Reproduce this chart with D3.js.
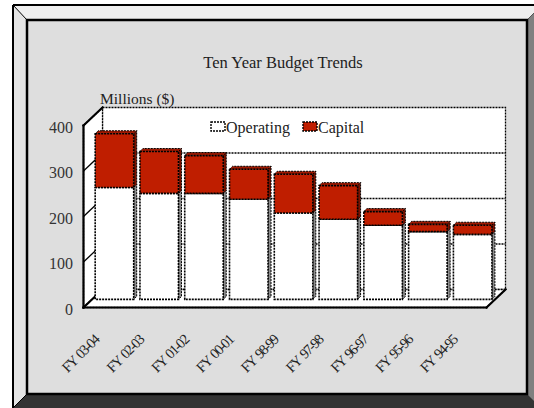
<!DOCTYPE html>
<html>
<head>
<meta charset="utf-8">
<script src="https://cdn.jsdelivr.net/npm/d3@7"></script>
<style>
  html, body { margin: 0; padding: 0; background: #ffffff; }
  svg { display: block; }
  text { font-family: "Liberation Serif", "Times New Roman", serif; }
</style>
</head>
<body>
<svg id="chart" width="534" height="408"></svg>
<script>
// Budget figures, millions of dollars
const categories = ["FY 03-04", "FY 02-03", "FY 01-02", "FY 00-01", "FY 98-99",
                    "FY 97-98", "FY 96-97", "FY 95-96", "FY 94-95"];
const operating = [246, 233, 233, 220, 190, 176, 163, 149, 143];
const capital   = [118,  92,  83,  66,  85,  74,  30,  16,  20];
const yTicks = [0, 100, 200, 300, 400];
const seriesNames = ["Operating", "Capital"];

const svg = d3.select("#chart");

// ---- bevelled frame ----
const frame = svg.append("g");
frame.append("polygon").attr("points", "13,5 534,5 534,13 527,20 27,20").attr("fill", "#efefef");
frame.append("polygon").attr("points", "13,5 27,20 27,394 13,408").attr("fill", "#e4e4e4");
frame.append("polygon").attr("points", "527,20 534,13 534,408 527,394").attr("fill", "#808080");
frame.append("polygon").attr("points", "27,394 527,394 534,401 534,408 13,408").attr("fill", "#333333");
frame.append("line").attr("x1", 13).attr("y1", 5).attr("x2", 534).attr("y2", 5).attr("stroke", "#000").attr("stroke-width", 2);
frame.append("line").attr("x1", 13).attr("y1", 5).attr("x2", 13).attr("y2", 408).attr("stroke", "#000").attr("stroke-width", 2);
frame.append("line").attr("x1", 13).attr("y1", 5).attr("x2", 27).attr("y2", 20).attr("stroke", "#000").attr("stroke-width", 1);
frame.append("line").attr("x1", 527).attr("y1", 20).attr("x2", 534).attr("y2", 13).attr("stroke", "#555").attr("stroke-width", 1);
frame.append("line").attr("x1", 27).attr("y1", 394).attr("x2", 13).attr("y2", 408).attr("stroke", "#000").attr("stroke-width", 1);
frame.append("rect").attr("x", 27).attr("y", 20).attr("width", 500).attr("height", 374)
  .attr("fill", "#dedede").attr("stroke", "#000").attr("stroke-width", 2.5);

// ---- 3D plot geometry ----
const X0 = 83.5, X1 = 486.5;      // front plane extent
const DX = 19, DY = -18;          // depth vector (front -> back wall)
const T = 0.45;                   // depth at which the bars stand
const BD = [3, -3];               // thickness of each bar

const y = d3.scaleLinear().domain([0, 400]).range([307.5, 125.5]);
const x = d3.scaleBand().domain(categories).range([X0, X1]).paddingInner(0.14).paddingOuter(0.07);

const P = (px, v, t) => [px + DX * t, y(v) + DY * t];
const pts = arr => arr.map(p => p.join(",")).join(" ");
const dotted = "2,1";

const plot = svg.append("g");

// back wall
plot.append("polygon")
  .attr("points", pts([P(X0, 400, 1), P(X1, 400, 1), P(X1, 0, 1), P(X0, 0, 1)]))
  .attr("fill", "#fff").attr("stroke", "#000").attr("stroke-width", 1.3).attr("stroke-dasharray", dotted);

// back wall gridlines
plot.selectAll(".grid").data(yTicks.filter(d => d > 0 && d < 400)).join("line")
  .attr("x1", d => P(X0, d, 1)[0]).attr("y1", d => P(X0, d, 1)[1])
  .attr("x2", d => P(X1, d, 1)[0]).attr("y2", d => P(X1, d, 1)[1])
  .attr("stroke", "#000").attr("stroke-width", 1.3).attr("stroke-dasharray", dotted);

// left wall
plot.append("polygon")
  .attr("points", pts([P(X0, 0, 0), P(X0, 400, 0), P(X0, 400, 1), P(X0, 0, 1)]))
  .attr("fill", "#fff").attr("stroke", "#000").attr("stroke-width", 1.3).attr("stroke-dasharray", dotted);
plot.selectAll(".wallgrid").data(yTicks.filter(d => d > 0 && d < 400)).join("line")
  .attr("x1", d => P(X0, d, 0)[0]).attr("y1", d => P(X0, d, 0)[1])
  .attr("x2", d => P(X0, d, 1)[0]).attr("y2", d => P(X0, d, 1)[1])
  .attr("stroke", "#000").attr("stroke-width", 1.3);

// floor
plot.append("polygon")
  .attr("points", pts([P(X0, 0, 0), P(X1, 0, 0), P(X1, 0, 1), P(X0, 0, 1)]))
  .attr("fill", "#fff").attr("stroke", "#000").attr("stroke-width", 1.3).attr("stroke-dasharray", dotted);

// solid axis edges
const solid = [[P(X0, 0, 0), P(X0, 400, 0)], [P(X0, 400, 0), P(X0, 400, 1)],
               [P(X0, 0, 0), P(X1, 0, 0)], [P(X1, 0, 0), P(X1, 0, 1)], [P(X0, 0, 0), P(X0, 0, 1)]];
plot.selectAll(".edge").data(solid).join("line")
  .attr("x1", d => d[0][0]).attr("y1", d => d[0][1])
  .attr("x2", d => d[1][0]).attr("y2", d => d[1][1])
  .attr("stroke", "#000").attr("stroke-width", 2.2).attr("stroke-linecap", "square");

// ---- stacked 3D bars ----
const segs = [];
categories.forEach((c, i) => {
  segs.push({ c, lo: 0, hi: operating[i], fill: "#ffffff", side: "#8c8c8c", top: "#f0f0f0", last: false });
  segs.push({ c, lo: operating[i], hi: operating[i] + capital[i], fill: "#bf1e00", side: "#7a1200", top: "#a01800", last: true });
});

const bars = plot.append("g").selectAll("g").data(segs).join("g");
bars.each(function(d) {
  const g = d3.select(this);
  const xl = x(d.c), xr = xl + x.bandwidth();
  const [ax, ayHi] = P(xl, d.hi, T);
  const [bx, ayLo] = P(xr, d.lo, T);
  // right side
  g.append("polygon")
    .attr("points", pts([[bx, ayHi], [bx + BD[0], ayHi + BD[1]], [bx + BD[0], ayLo + BD[1]], [bx, ayLo]]))
    .attr("fill", d.side).attr("stroke", "#000").attr("stroke-width", 1).attr("stroke-dasharray", dotted);
  // top face
  if (d.last) {
    g.append("polygon")
      .attr("points", pts([[ax, ayHi], [ax + BD[0], ayHi + BD[1]], [bx + BD[0], ayHi + BD[1]], [bx, ayHi]]))
      .attr("fill", d.top).attr("stroke", "#000").attr("stroke-width", 1).attr("stroke-dasharray", dotted);
  }
  // front face
  g.append("rect")
    .attr("x", ax).attr("y", ayHi).attr("width", bx - ax).attr("height", ayLo - ayHi)
    .attr("fill", d.fill).attr("stroke", "#000").attr("stroke-width", 1.6).attr("stroke-dasharray", dotted);
});

// ---- axis labels ----
svg.append("g").selectAll("text").data(yTicks).join("text")
  .attr("x", 73).attr("y", d => y(d) + 1.5).attr("dy", "0.35em")
  .attr("text-anchor", "end").attr("font-size", 16).attr("fill", "#333")
  .text(d => d);

svg.append("g").selectAll("text").data(categories).join("text")
  .attr("transform", d => `translate(${x(d) + x.bandwidth() / 2 - 6},341) rotate(-45)`)
  .attr("text-anchor", "end").attr("font-size", 14.5)
  .attr("letter-spacing", -1.5).attr("word-spacing", 2).attr("fill", "#222")
  .text(d => d);

// ---- titles ----
svg.append("text").attr("x", 283).attr("y", 68).attr("text-anchor", "middle")
  .attr("font-size", 16.5).attr("fill", "#222").text("Ten Year Budget Trends");
svg.append("text").attr("x", 100).attr("y", 104)
  .attr("font-size", 15.5).attr("fill", "#222").text("Millions ($)");

// ---- legend ----
const legend = svg.append("g");
const legendItems = [
  { name: seriesNames[0], fill: "#ffffff", x: 211 },
  { name: seriesNames[1], fill: "#bf1e00", x: 303 }
];
legendItems.forEach(it => {
  legend.append("rect").attr("x", it.x).attr("y", 122).attr("width", 14).attr("height", 9)
    .attr("fill", it.fill).attr("stroke", "#000").attr("stroke-width", 1.4).attr("stroke-dasharray", dotted);
  legend.append("text").attr("x", it.x + 15).attr("y", 132.5)
    .attr("font-size", 16).attr("fill", "#222").text(it.name);
});
</script>
</body>
</html>
